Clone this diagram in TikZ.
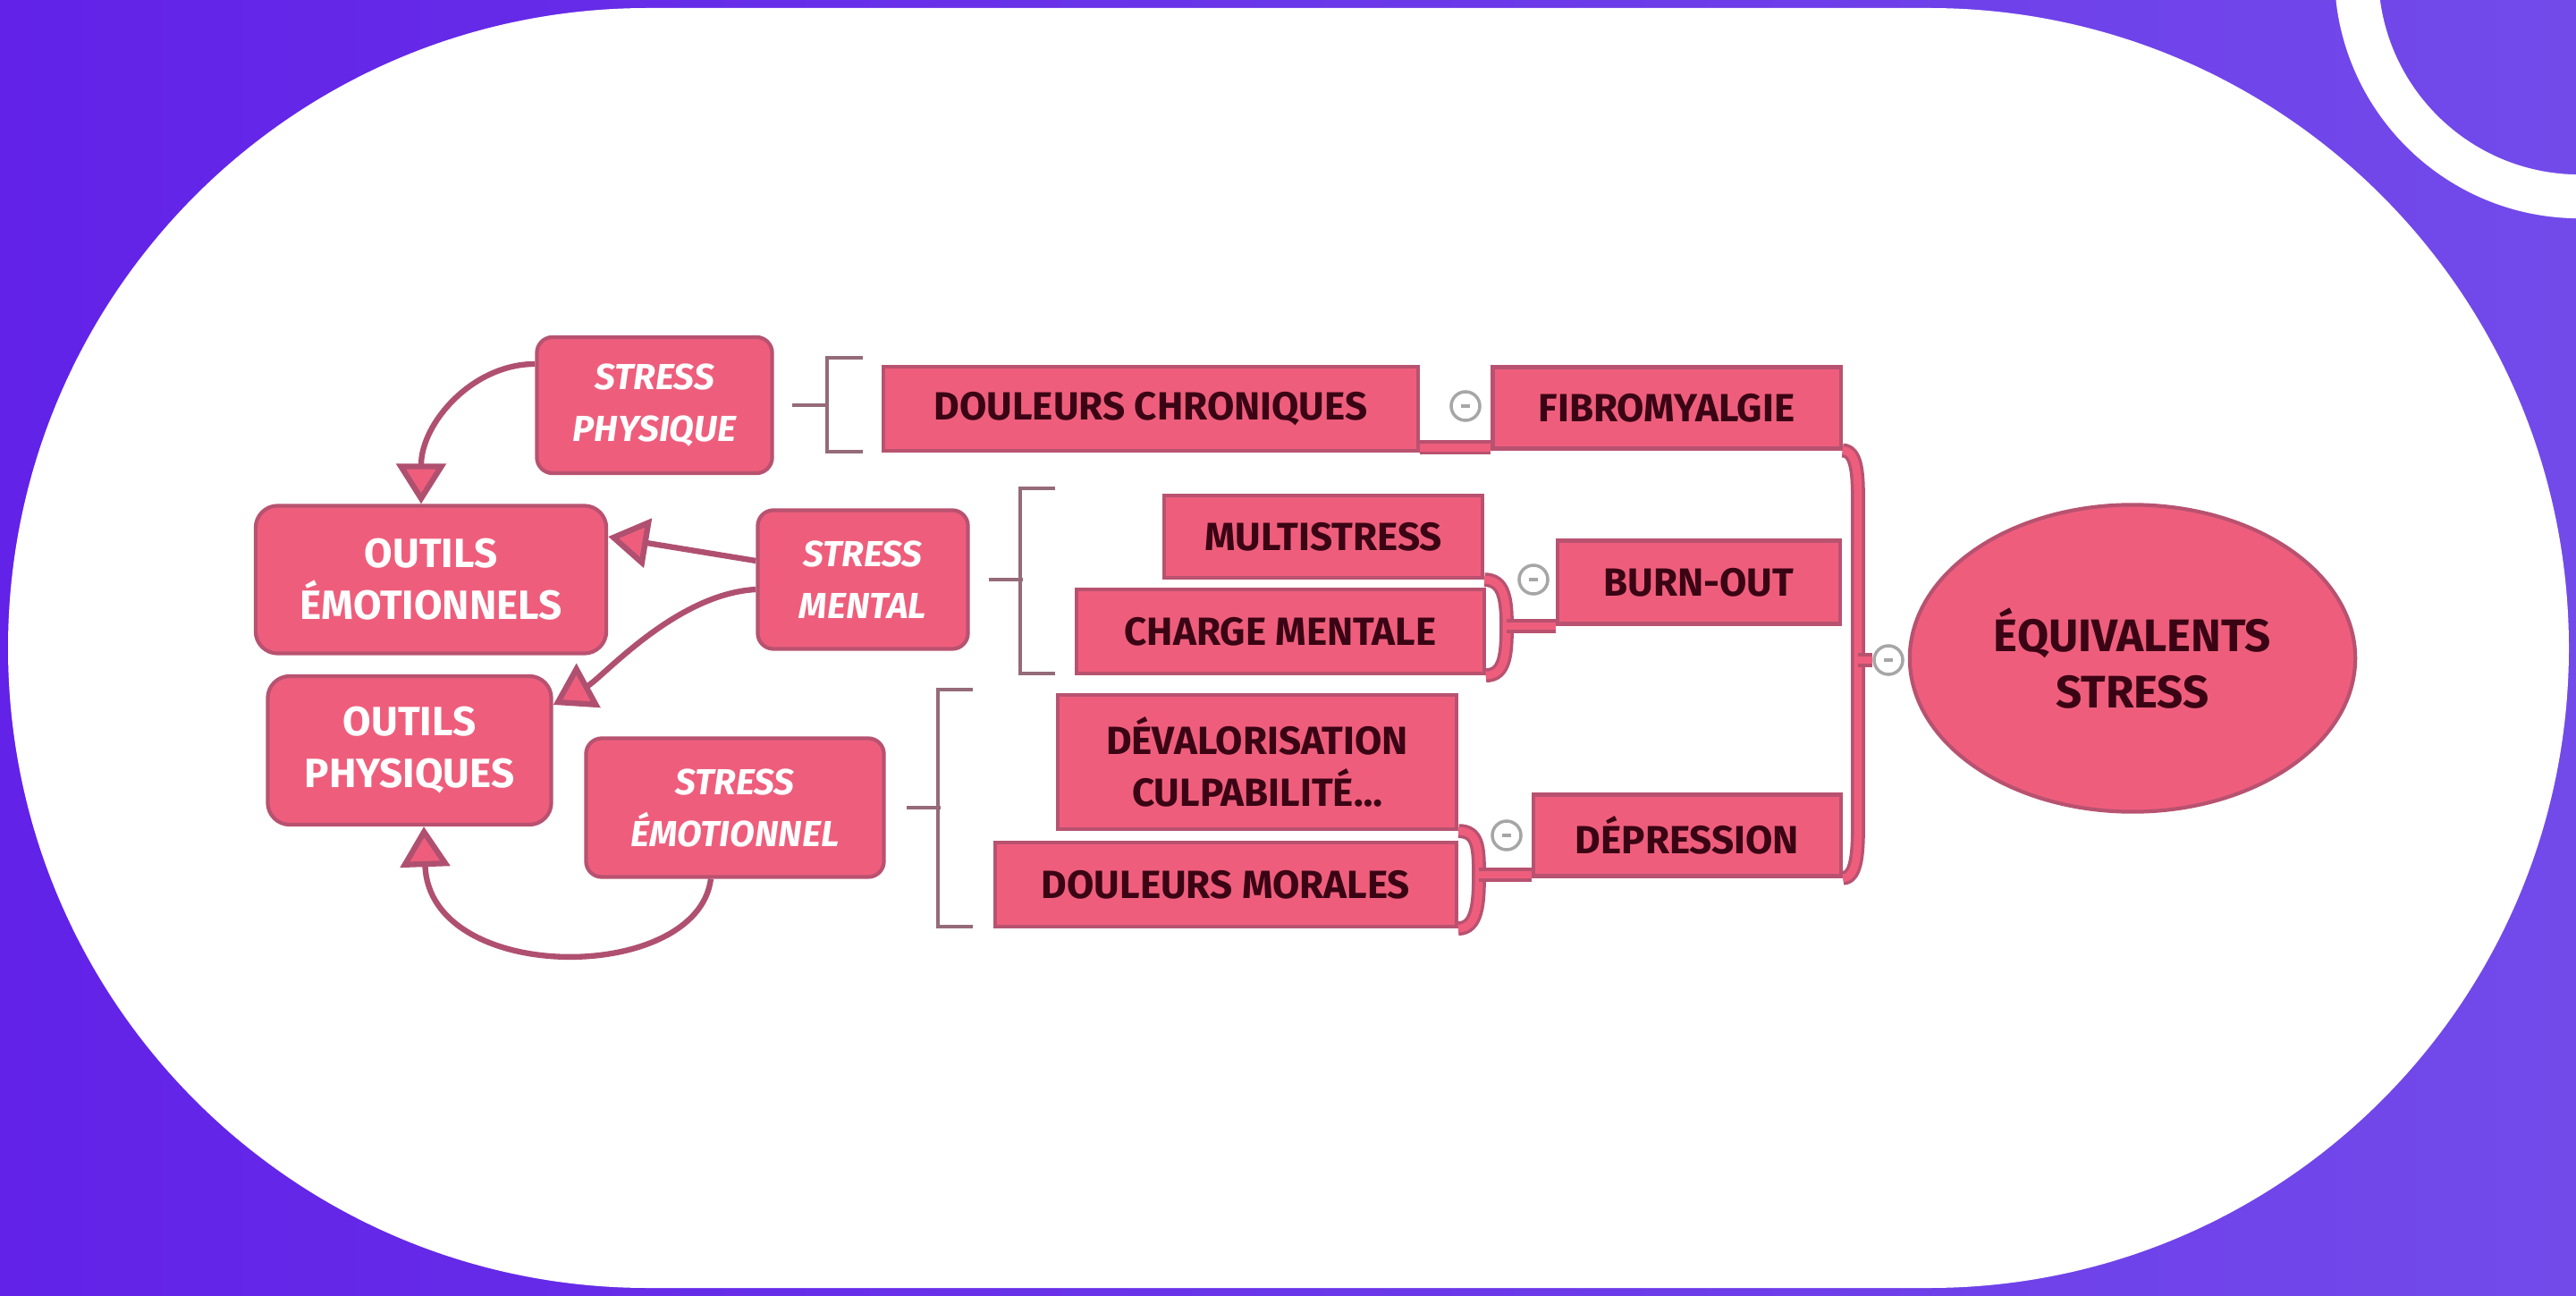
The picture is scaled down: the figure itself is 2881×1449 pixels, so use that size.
\documentclass[tikz,border=0pt]{standalone}
\usepackage{fontspec}
\setmainfont{Fira Sans}
\usetikzlibrary{arrows.meta}
\usetikzlibrary{positioning}
\usetikzlibrary{shapes.geometric}
\definecolor{bgleft}{RGB}{98, 34, 232}
\definecolor{bgright}{RGB}{114, 74, 234}
\definecolor{mpink}{RGB}{238, 94, 124}
\definecolor{medge}{RGB}{184, 82, 112}
\definecolor{mtext}{RGB}{58, 4, 20}
\definecolor{mline}{RGB}{176, 80, 112}
\tikzset{rbox/.style = {draw = medge, fill = mpink, line width = 1.2pt, inner sep = 0, align = center, text = mtext, font = \fontsize{12.5}{16.5}\selectfont\bfseries}}
\tikzset{lbox/.style = {draw = medge, fill = mpink, line width = 1.2pt, inner sep = 0, align = center, text = white, rounded corners = 5pt, font = \fontsize{11.5}{16.5}\selectfont\bfseries\itshape}}
\tikzset{tbox/.style = {lbox, rounded corners = 7pt, font = \fontsize{13}{16.5}\selectfont\bfseries}}
\tikzset{cmin/.style = {circle, draw = gray!70, fill = white, line width = 1pt, inner sep = 0, minimum size = 0.32cm}}
\tikzset{lnk/.style = {draw = mline, line width = 1.8pt, -{Triangle[length = 0.45cm, width = 0.55cm, fill = mpink]}}}
\tikzset{band/.style = {draw = medge, double = mpink, double distance = 2.5pt, line width = 1pt}}
\tikzset{brak/.style = {draw = gray!55!mline, line width = 1.2pt}}

\begin{document}
\begin{tikzpicture}[x = 0.01cm, y = -0.01cm]
    \useasboundingbox (0, 0) rectangle (2881, 1449);
    \clip (0, 0) rectangle (2881, 1449);
    \shade [left color = bgleft, right color = bgright] (0, 0) rectangle (2881, 1449);
    \fill [white, rounded corners = 7.15cm] (9, 9) rectangle (2873, 1440);
    \draw [white, line width = 0.49cm] (2885, -30) circle (2.495cm);

    \node [lbox, minimum width = 2.63cm, minimum height = 1.52cm] (sp) at (732, 453) {STRESS\\PHYSIQUE};
    \node [tbox, minimum width = 3.92cm, minimum height = 1.65cm] (oe) at (482, 648) {OUTILS\\ÉMOTIONNELS};
    \node [lbox, minimum width = 2.35cm, minimum height = 1.55cm] (sm) at (965, 648) {STRESS\\MENTAL};
    \node [tbox, minimum width = 3.17cm, minimum height = 1.66cm] (op) at (458, 839) {OUTILS\\PHYSIQUES};
    \node [lbox, minimum width = 3.33cm, minimum height = 1.55cm] (se) at (822, 903) {STRESS\\ÉMOTIONNEL};

    \node [rbox, minimum width = 5.97cm, minimum height = 0.94cm] (dc) at (1287, 457) {DOULEURS CHRONIQUES};
    \node [rbox, minimum width = 3.89cm, minimum height = 0.91cm] (fib) at (1864, 456) {FIBROMYALGIE};
    \node [rbox, minimum width = 3.56cm, minimum height = 0.92cm] (mul) at (1480, 600) {MULTISTRESS};
    \node [rbox, minimum width = 4.55cm, minimum height = 0.94cm] (cm) at (1432, 706) {CHARGE MENTALE};
    \node [rbox, minimum width = 3.16cm, minimum height = 0.93cm] (bo) at (1900, 651) {BURN-OUT};
    \node [rbox, minimum width = 4.46cm, minimum height = 1.50cm] (dv) at (1406, 852) {DÉVALORISATION\\CULPABILITÉ\ldots};
    \node [rbox, minimum width = 5.15cm, minimum height = 0.94cm] (dm) at (1371, 989) {DOULEURS MORALES};
    \node [rbox, minimum width = 3.44cm, minimum height = 0.91cm] (dep) at (1887, 934) {DÉPRESSION};
    \node [rbox, ellipse, minimum width = 4.98cm, minimum height = 3.43cm, font = \fontsize{14.5}{18}\selectfont\bfseries] (eq) at (2385, 736) {ÉQUIVALENTS\\STRESS};

    \draw [brak] ([xshift = 0.2cm]sp.east) -- ++(41, 0);
    \draw [brak] (965, 400) -- (925, 400) -- (925, 505) -- (965, 505);
    \draw [brak] ([xshift = 0.21cm]sm.east) -- ++(38, 0);
    \draw [brak] (1180, 546) -- (1141, 546) -- (1141, 753) -- (1180, 753);
    \draw [brak] ([xshift = 0.23cm]se.east) -- ++(38, 0);
    \draw [brak] (1088, 771) -- (1049, 771) -- (1049, 1036) -- (1088, 1036);

    \draw [band] ([yshift = 0.06cm]dc.south east) -- ([yshift = 0.06cm]dc.south east -| fib.west);
    \draw [band] (mul.south east) .. controls +(22, 0) and +(0, -30) .. (1685, 700) coordinate (jb) .. controls +(0, 30) and +(22, 0) .. (cm.south east);
    \draw [band] (jb) -- (jb -| bo.west);
    \draw [band] (dv.south east) .. controls +(22, 0) and +(0, -30) .. (1654, 978) coordinate (jd) .. controls +(0, 30) and +(22, 0) .. (dm.south east);
    \draw [band] (jd) -- (jd -| dep.west);
    \draw [band] (fib.south east) .. controls +(16, 0) and +(0, -30) .. (2078, 560) -- (2078, 738) coordinate (je) -- (2078, 920) .. controls +(0, 30) and +(16, 0) .. (dep.south east);

    \node [cmin] (c1) at (1639, 454) {};
    \node [cmin] (c2) at (1715, 648) {};
    \node [cmin] (c3) at (1685, 934) {};
    \node [cmin] (c4) at (2112, 738) {};
    \draw [band] (je) -- (c4);
    \foreach \c in {c1, c2, c3, c4}
        \draw [gray!70, line width = 1pt] ([xshift = -0.05cm]\c.center) -- ([xshift = 0.05cm]\c.center);

    \draw [lnk] ([yshift = 0.46cm]sp.west) .. controls +(-70, 0) and +(0, -90) .. ([xshift = -0.11cm]oe.north);
    \draw [lnk] ([yshift = 0.21cm]sm.west) -- ([yshift = 0.48cm]oe.east);
    \draw [lnk] ([yshift = -0.11cm]sm.west) .. controls +(-90, 5) and +(55, -30) .. ([yshift = 0.51cm]op.east);
    \draw [lnk] ([xshift = -0.27cm]se.south) .. controls +(-15, 118) and +(6, 178) .. ([xshift = 0.16cm]op.south);
\end{tikzpicture}
\end{document}
